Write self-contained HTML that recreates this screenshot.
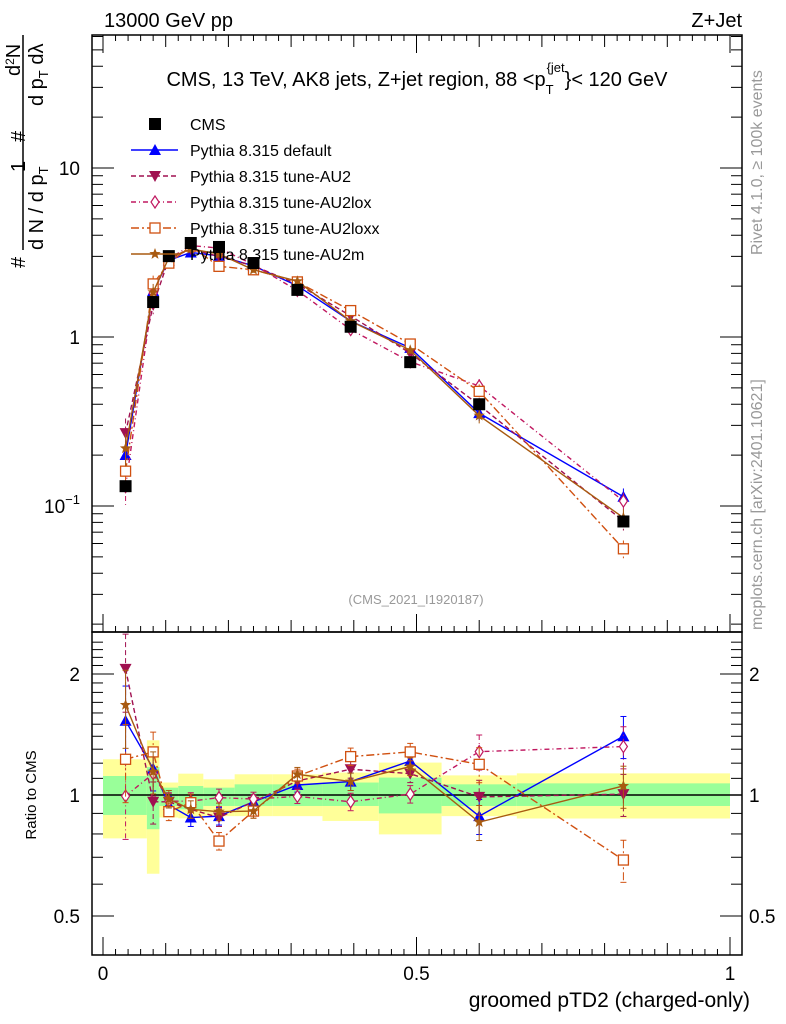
<!DOCTYPE html>
<html><head><meta charset="utf-8"><style>
body{margin:0;background:#fff;}
svg{display:block;font-family:"Liberation Sans",sans-serif;}
</style></head><body>
<svg id="plot" width="786" height="1024" xmlns="http://www.w3.org/2000/svg">
<text x="104" y="27" font-size="20">13000 GeV pp</text>
<text x="742" y="27" font-size="20" text-anchor="end">Z+Jet</text>
<g id="bands"></g>
<g id="grid"></g>
<text x="417" y="86" font-size="20" text-anchor="middle">CMS, 13 TeV, AK8 jets, Z+jet region, 88 &lt;p<tspan font-size="13" dy="8">T</tspan><tspan font-size="13" dx="-7" dy="-22">{jet</tspan><tspan dy="14">}&lt; 120 GeV</tspan></text>
<text x="416" y="604" font-size="13" fill="#999" text-anchor="middle">(CMS_2021_I1920187)</text>
<text transform="translate(762,255) rotate(-90)" font-size="16" fill="#999">Rivet 4.1.0, ≥ 100k events</text>
<text transform="translate(762,630) rotate(-90)" font-size="16" fill="#999">mcplots.cern.ch [arXiv:2401.10621]</text>
<g font-size="20">
<text transform="translate(25,268) rotate(-90)">#</text>
<line x1="23" y1="250" x2="23" y2="35" stroke="#000" stroke-width="1.5"/>
<text transform="translate(25,172) rotate(-90)">1</text>
<text transform="translate(43,250) rotate(-90)">d N / d p<tspan font-size="13" dy="5">T</tspan></text>
<text transform="translate(25,142) rotate(-90)">#</text>
<text transform="translate(20,76) rotate(-90)">d<tspan font-size="12" dy="-6">2</tspan><tspan dy="6">N</tspan></text>
<text transform="translate(43,106) rotate(-90)">d p<tspan font-size="13" dy="5">T</tspan><tspan dy="-5"> dλ</tspan></text>
</g>
<text transform="translate(36,795) rotate(-90)" font-size="15" text-anchor="middle">Ratio to CMS</text>
<text x="750" y="1007" font-size="21" text-anchor="end">groomed pTD2 (charged-only)</text>
<g id="series"></g>
<g id="legend"></g>
</svg>
<script>
const binEdges=[0,0.07,0.09,0.12,0.16,0.21,0.27,0.35,0.44,0.54,0.66,1.0];
const xCenters=[0.036,0.08,0.105,0.14,0.185,0.24,0.31,0.395,0.49,0.6,0.83];
const cmsValues=[0.131,1.61,3.01,3.6,3.41,2.74,1.90,1.15,0.71,0.40,0.081];
const bandYellowHi=[1.227,1.368,1.074,1.13,1.094,1.126,1.126,1.137,1.204,1.119,1.132];
const bandYellowLo=[0.78,0.637,0.879,0.875,0.886,0.886,0.886,0.862,0.798,0.886,0.874];
const bandGreenHi=[1.115,1.174,1.043,1.053,1.043,1.063,1.063,1.074,1.105,1.063,1.069];
const bandGreenLo=[0.892,0.822,0.939,0.921,0.939,0.939,0.939,0.939,0.9,0.939,0.939];
const ratioDefault=[1.53,1.163,0.944,0.879,0.886,0.962,1.059,1.08,1.215,0.886,1.40];
const ratioAU2=[2.06,0.962,0.962,0.921,0.879,0.962,1.084,1.159,1.13,0.989,1.005];
const ratioAU2lox=[0.994,1.13,0.965,0.965,0.985,0.977,0.992,0.962,1.005,1.282,1.32];
const ratioAU2loxx=[1.227,1.28,0.909,0.957,0.768,0.912,1.115,1.246,1.28,1.192,0.689];
const ratioAU2m=[1.675,1.143,0.977,0.921,0.909,0.912,1.126,1.08,1.177,0.856,1.053];
const relErr=[0.22,0.12,0.05,0.05,0.05,0.04,0.04,0.05,0.05,0.10,0.12];
const legendLabels=["CMS","Pythia 8.315 default","Pythia 8.315 tune-AU2","Pythia 8.315 tune-AU2lox","Pythia 8.315 tune-AU2loxx","Pythia 8.315 tune-AU2m"];

const NS="http://www.w3.org/2000/svg";
const L=92,R=742,T=35,MB=632,RB=955;
const X=v=>103+v*627;
const Y=v=>337-169*Math.log10(v);
const YR=r=>795-121*Math.log2(r);
function mk(tag,attrs,parent){const e=document.createElementNS(NS,tag);for(const k in attrs)e.setAttribute(k,attrs[k]);parent.appendChild(e);return e;}
const bands=document.getElementById('bands'),grid=document.getElementById('grid'),ser=document.getElementById('series'),leg=document.getElementById('legend');

for(let i=0;i<xCenters.length;i++){
  const x0=X(binEdges[i]),x1=X(binEdges[i+1]);
  let r=mk('rect',{x:x0,y:YR(bandYellowHi[i]),width:x1-x0,height:YR(bandYellowLo[i])-YR(bandYellowHi[i]),fill:'#ffff99'},bands);
  
  
  r=mk('rect',{x:x0,y:YR(bandGreenHi[i]),width:x1-x0,height:YR(bandGreenLo[i])-YR(bandGreenHi[i]),fill:'#99ff99'},bands);
  
  
}
let f=mk('rect',{x:L,y:T,width:R-L,height:MB-T,fill:'none',stroke:'#000','stroke-width':1.5},grid);


f=mk('rect',{x:L,y:MB,width:R-L,height:RB-MB,fill:'none',stroke:'#000','stroke-width':1.5},grid);


mk('line',{x1:L,x2:R,y1:YR(1),y2:YR(1),stroke:'#000','stroke-width':1.5},grid);
for(let k=0;k<=50;k++){const v=k*0.02,x=X(v);if(x>R)break;const big=k%5==0;const len=(k%25==0)?18:(big?12:6);
  mk('line',{x1:x,x2:x,y1:MB,y2:MB-len,stroke:'#000'},grid);mk('line',{x1:x,x2:x,y1:T,y2:T+len,stroke:'#000'},grid);
  mk('line',{x1:x,x2:x,y1:RB,y2:RB-len,stroke:'#000'},grid);}
[[0,'0'],[0.5,'0.5'],[1,'1']].forEach(([v,t])=>{const e=mk('text',{x:X(v),y:980,'font-size':19,'text-anchor':'middle'},grid);e.textContent=t;
  
  });
for(let d=-2;d<=1;d++)for(let m=1;m<10;m++){const v=m*Math.pow(10,d),y=Y(v);if(y<T||y>MB)continue;const len=m==1?22:11;
  mk('line',{x1:L,x2:L+len,y1:y,y2:y,stroke:'#000'},grid);mk('line',{x1:R,x2:R-len,y1:y,y2:y,stroke:'#000'},grid);}
[[10,'10'],[1,'1']].forEach(([v,t])=>{const e=mk('text',{x:80,y:Y(v)+7,'font-size':19,'text-anchor':'end'},grid);e.textContent=t;
  
  });
{const e=mk('text',{x:80,y:Y(0.1)+7,'font-size':19,'text-anchor':'end'},grid);e.innerHTML='10<tspan font-size="13" dy="-9">−1</tspan>';
  
  }
for(let v=0.4;v<=2.5;v+=0.1){const y=YR(v);if(y<MB||y>RB)continue;const big=Math.abs(v-0.5)<1e-6||Math.abs(v-1)<1e-6||Math.abs(v-2)<1e-6;const len=big?22:11;
  mk('line',{x1:L,x2:L+len,y1:y,y2:y,stroke:'#000'},grid);mk('line',{x1:R,x2:R-len,y1:y,y2:y,stroke:'#000'},grid);}
[[2,'2'],[1,'1'],[0.5,'0.5']].forEach(([v,t])=>{let e=mk('text',{x:80,y:YR(v)+7,'font-size':19,'text-anchor':'end'},grid);e.textContent=t;
  
  
  e=mk('text',{x:749,y:YR(v)+7,'font-size':19},grid);e.textContent=t;
  
  });

function marker(kind,x,y,c,g){
  if(kind=='sq')return mk('rect',{x:x-6,y:y-6,width:12,height:12,fill:c},g);
  if(kind=='osq')return mk('rect',{x:x-5,y:y-5,width:10,height:10,fill:'#fff',stroke:c,'stroke-width':1.3},g);
  if(kind=='up')return mk('polygon',{points:`${x},${y-6} ${x-6},${y+5} ${x+6},${y+5}`,fill:c},g);
  if(kind=='down')return mk('polygon',{points:`${x},${y+6} ${x-6},${y-5} ${x+6},${y-5}`,fill:c},g);
  if(kind=='dia')return mk('polygon',{points:`${x},${y-6} ${x-4},${y} ${x},${y+6} ${x+4},${y}`,fill:'#fff',stroke:c,'stroke-width':1.2},g);
  if(kind=='star'){let p=[];for(let i=0;i<10;i++){const r=i%2?2.5:6,a=-Math.PI/2+i*Math.PI/5;p.push((x+r*Math.cos(a)).toFixed(1)+','+(y+r*Math.sin(a)).toFixed(1));}return mk('polygon',{points:p.join(' '),fill:c},g);}
}
const series=[
 {name:'pythia-default',r:ratioDefault,c:'#0000ff',dash:'',m:'up'},
 {name:'pythia-au2',r:ratioAU2,c:'#a01050',dash:'5,3',m:'down'},
 {name:'pythia-au2lox',r:ratioAU2lox,c:'#c01860',dash:'5,3,1,3',m:'dia'},
 {name:'pythia-au2loxx',r:ratioAU2loxx,c:'#d05010',dash:'8,3,2,3',m:'osq'},
 {name:'pythia-au2m',r:ratioAU2m,c:'#a85a10',dash:'',m:'star'}];
series.forEach(s=>{
  const g=mk('g',{},ser);
  
  
  const ptsM=xCenters.map((x,i)=>X(x)+','+Y(cmsValues[i]*s.r[i])).join(' ');
  const ptsR=xCenters.map((x,i)=>X(x)+','+YR(s.r[i])).join(' ');
  mk('polyline',{points:ptsM,fill:'none',stroke:s.c,'stroke-width':1.4,'stroke-dasharray':s.dash},g);
  mk('polyline',{points:ptsR,fill:'none',stroke:s.c,'stroke-width':1.4,'stroke-dasharray':s.dash},g);
  xCenters.forEach((xv,i)=>{const x=X(xv);
    const v=cmsValues[i]*s.r[i],e=relErr[i];
    mk('line',{x1:x,x2:x,y1:Y(v*(1+e)),y2:Y(v*(1-e)),stroke:s.c,'stroke-dasharray':s.dash},g);
    mk('line',{x1:x,x2:x,y1:YR(s.r[i]*(1+e)),y2:YR(s.r[i]*(1-e)),stroke:s.c,'stroke-dasharray':s.dash},g);
    [YR(s.r[i]*(1+e)),YR(s.r[i]*(1-e))].forEach(y=>mk('line',{x1:x-3,x2:x+3,y1:y,y2:y,stroke:s.c},g));
    let mm=marker(s.m,x,Y(v),s.c,g);
    
    
    mm=marker(s.m,x,YR(s.r[i]),s.c,g);
    
    
  });
});
{const g=mk('g',{},ser);
 
 
 xCenters.forEach((xv,i)=>{const p=marker('sq',X(xv),Y(cmsValues[i]),'#000',g);
  
  });}
const legRows=[124,150,176,202,228,254];
const legStyles=[{c:'#000',m:'sq',dash:null}].concat(series.map(s=>({c:s.c,m:s.m,dash:s.dash})));
legRows.forEach((y,i)=>{const g=mk('g',{},leg);
  
  
  const st=legStyles[i];
  if(st.dash!==null)mk('line',{x1:131,x2:178,y1:y,y2:y,stroke:st.c,'stroke-width':1.4,'stroke-dasharray':st.dash},g);
  marker(st.m,155,y,st.c,g);
  const t=mk('text',{x:190,y:y+6,'font-size':16},g);t.textContent=legendLabels[i];});
</script>
</body></html>
